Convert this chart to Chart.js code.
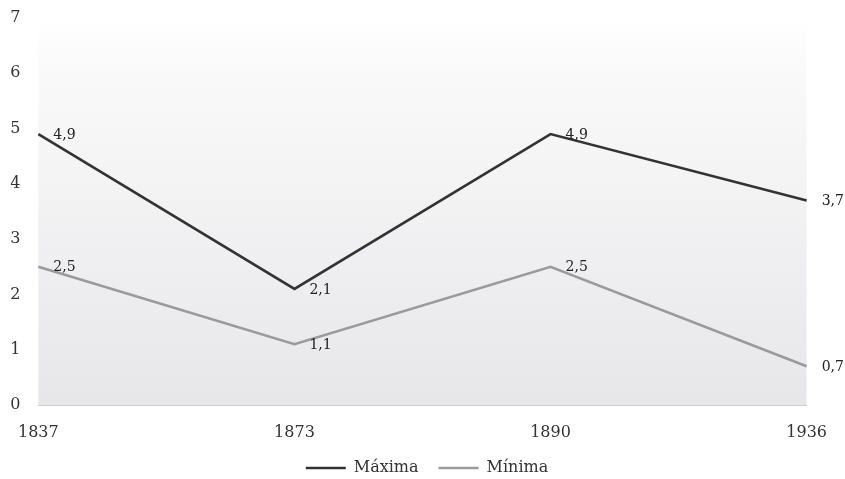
<!DOCTYPE html>
<html>
<head>
<meta charset="utf-8">
<script src="https://cdn.jsdelivr.net/npm/chart.js@4/dist/chart.umd.min.js"></script>
<style>
  html, body { margin: 0; padding: 0; background: #fff; overflow: hidden; }
  #wrap { width: 845px; height: 486px; }
</style>
</head>
<body>
<div id="wrap"><canvas id="tempChart"></canvas></div>
<script>
const years = ["1837", "1873", "1890", "1936"];
const maxima = [4.9, 2.1, 4.9, 3.7];
const minima = [2.5, 1.1, 2.5, 0.7];
const yTicks = [0, 1, 2, 3, 4, 5, 6, 7];

const serif = "'DejaVu Serif', 'Liberation Serif', serif";

// soft grey gradient behind the plot
const plotBackground = {
  id: "plotBackground",
  beforeDraw(chart) {
    const { ctx, chartArea: a } = chart;
    const g = ctx.createLinearGradient(0, a.top, 0, a.bottom);
    g.addColorStop(0, "#ffffff");
    g.addColorStop(0.12, "#fafafa");
    g.addColorStop(1, "#e7e7ea");
    ctx.save();
    ctx.fillStyle = g;
    ctx.fillRect(a.left, a.top, a.right - a.left, a.bottom - a.top);
    ctx.restore();
  }
};

// value labels to the right of each point, decimal comma
const valueLabels = {
  id: "valueLabels",
  afterDatasetsDraw(chart) {
    const ctx = chart.ctx;
    ctx.save();
    ctx.font = "14px " + serif;
    ctx.fillStyle = "#222";
    ctx.textAlign = "left";
    ctx.textBaseline = "middle";
    chart.data.datasets.forEach((ds, i) => {
      chart.getDatasetMeta(i).data.forEach((pt, j) => {
        const txt = ds.data[j].toFixed(1).replace(".", ",");
        ctx.fillText(txt, pt.x + 15, pt.y + 1);
      });
    });
    ctx.restore();
  }
};

new Chart(document.getElementById("tempChart"), {
  type: "line",
  data: {
    labels: years,
    datasets: [
      {
        label: "Máxima",
        data: maxima,
        borderColor: "#333333",
        backgroundColor: "#333333",
        borderWidth: 2.6,
        pointRadius: 0,
        tension: 0
      },
      {
        label: "Mínima",
        data: minima,
        borderColor: "#9a9a9a",
        backgroundColor: "#9a9a9a",
        borderWidth: 2.6,
        pointRadius: 0,
        tension: 0
      }
    ]
  },
  options: {
    responsive: true,
    maintainAspectRatio: false,
    animation: false,
    layout: { padding: { left: 9, right: 0, top: 18, bottom: 0 } },
    plugins: {
      tooltip: { enabled: false },
      legend: {
        position: "bottom",
        labels: {
          usePointStyle: true,
          pointStyle: "line",
          pointStyleWidth: 40,
          padding: 20,
          color: "#333",
          font: { family: serif, size: 16 }
        }
      }
    },
    scales: {
      x: {
        offset: false,
        grid: { display: false, drawTicks: false },
        border: { display: true, color: "#cfcfcf", width: 1 },
        afterFit(axis) {
          axis.height = 35;
        },
        ticks: {
          color: "#333",
          padding: 18,
          maxRotation: 0,
          font: { family: serif, size: 16 }
        }
      },
      y: {
        min: 0,
        max: 7,
        afterBuildTicks(axis) {
          axis.ticks = yTicks.map(v => ({ value: v }));
        },
        afterFit(axis) {
          axis.width = 28;
        },
        grid: { display: false, drawTicks: false },
        border: { display: false },
        ticks: {
          color: "#333",
          padding: 0,
          crossAlign: "far",
          font: { family: serif, size: 16 }
        }
      }
    }
  },
  plugins: [plotBackground, valueLabels]
});
</script>
</body>
</html>
